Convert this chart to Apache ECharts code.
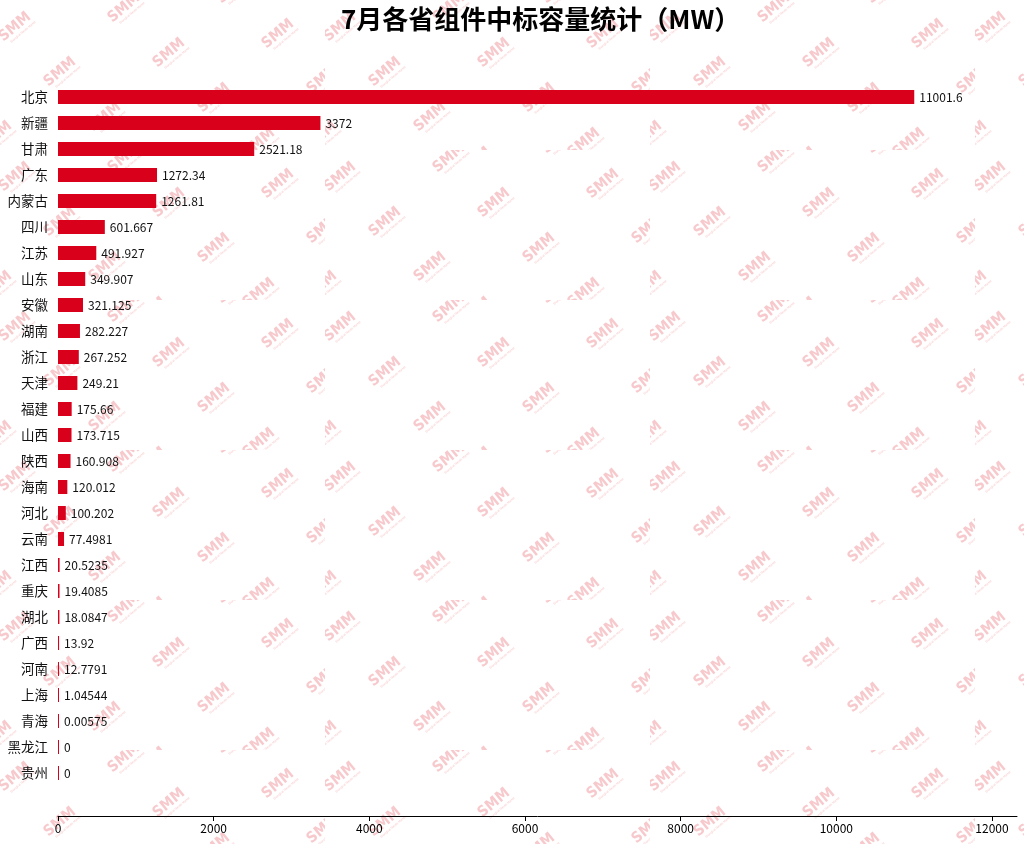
<!DOCTYPE html>
<html>
<head>
<meta charset="utf-8">
<script src="https://cdn.jsdelivr.net/npm/echarts@6/dist/echarts.min.js"></script>
<style>
html,body{margin:0;padding:0;background:#fff;}
#main{width:1024px;height:844px;}
</style>
</head>
<body>
<div id="main"></div>
<script>
const titleText = '7月各省组件中标容量统计（MW）';
const provinces = ['北京','新疆','甘肃','广东','内蒙古','四川','江苏','山东','安徽','湖南','浙江','天津','福建','山西','陕西','海南','河北','云南','江西','重庆','湖北','广西','河南','上海','青海','黑龙江','贵州'];
const capacityMW = [11001.6,3372,2521.18,1272.34,1261.81,601.667,491.927,349.907,321.125,282.227,267.252,249.21,175.66,173.715,160.908,120.012,100.202,77.4981,20.5235,19.4085,18.0847,13.92,12.7791,1.04544,0.00575,0,0];
const xTickValues = [0,2000,4000,6000,8000,10000,12000];

// decorative watermark tile
(function(){
  const c = document.createElement('canvas');
  c.width = 325; c.height = 150;
  const ctx = c.getContext('2d');
  const ox = 15, oy = 27, u = [45,45], v = [109,-19];
  for (let i = -6; i <= 8; i++) {
    for (let j = -4; j <= 5; j++) {
      const x = ox + i*u[0] + j*v[0];
      const y = oy + i*u[1] + j*v[1];
      if (x < -40 || x > 365 || y < -40 || y > 190) continue;
      ctx.save();
      ctx.translate(x, y);
      ctx.rotate(-40*Math.PI/180);
      ctx.fillStyle = '#f7c9cc';
      ctx.font = 'bold 15px "DejaVu Sans Condensed", "Liberation Sans Narrow", sans-serif';
      ctx.textAlign = 'center';
      ctx.textBaseline = 'middle';
      ctx.fillText('SMM', 0, 0);
      ctx.font = '3px sans-serif';
      ctx.fillText('Shanghai Metals Market', 3, 9);
      ctx.restore();
    }
  }
  document.getElementById('main').style.backgroundImage = 'url(' + c.toDataURL() + ')';
  document.getElementById('main').style.backgroundRepeat = 'repeat';
})();

const chart = echarts.init(document.getElementById('main'));
const FONT = '"Noto Sans CJK SC", "Noto Sans", sans-serif';
chart.setOption({
  animation: false,
  textStyle: { fontFamily: FONT },
  title: {
    text: titleText,
    left: 336,
    top: 1,
    textStyle: { fontFamily: FONT, fontSize: 26, fontWeight: 'bold', color: '#000' }
  },
  grid: { left: 58, right: 7, top: 84, bottom: 58, containLabel: false },
  xAxis: {
    type: 'value',
    min: 0,
    max: function (v) { return v.max * 1.12; },
    interval: 2000,
    offset: 30,
    axisLine: { show: true, lineStyle: { color: '#000', width: 1 } },
    axisTick: { show: true, length: 5, lineStyle: { color: '#000' }, customValues: xTickValues },
    axisLabel: { color: '#000', fontSize: 12, margin: 6, fontFamily: FONT, customValues: xTickValues,
      formatter: function (v) { return String(v); } },
    splitLine: { show: false }
  },
  yAxis: {
    type: 'category',
    data: provinces,
    inverse: true,
    axisLine: { show: false },
    axisTick: { show: false },
    axisLabel: { color: '#111', fontSize: 13.5, margin: 10, fontFamily: FONT }
  },
  series: [{
    type: 'bar',
    data: capacityMW,
    barWidth: 14,
    barMinHeight: 1,
    itemStyle: { color: '#d9001b' },
    label: {
      show: true,
      position: 'right',
      distance: 5,
      color: '#111',
      fontSize: 12,
      fontFamily: FONT
    }
  }]
});
</script>
</body>
</html>
